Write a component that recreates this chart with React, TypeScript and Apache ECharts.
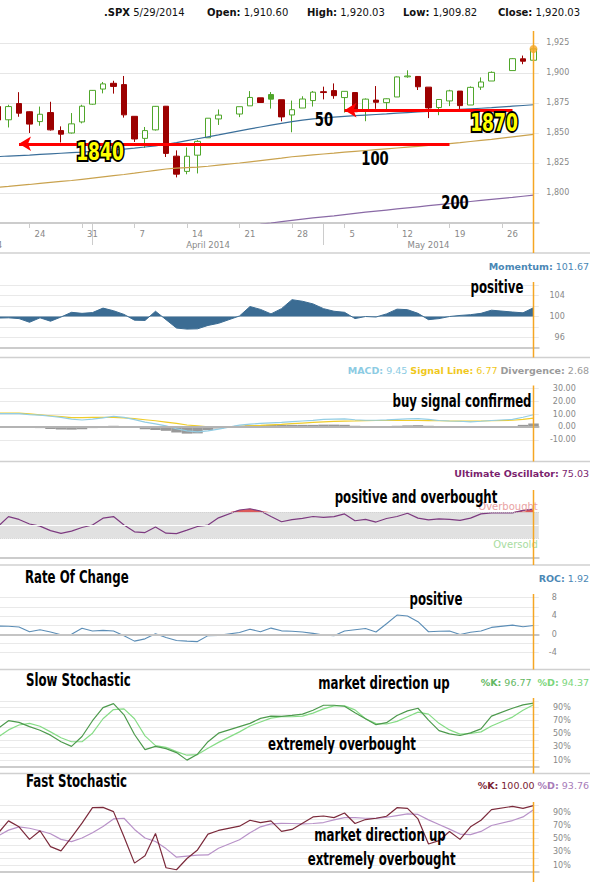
import React, { useEffect, useRef } from "react";
import * as echarts from "echarts";

// ---------- data (weekday categories; holidays have no values) ----------
const dates = [
  "2014-03-17", "2014-03-18", "2014-03-19", "2014-03-20", "2014-03-21",
  "2014-03-24", "2014-03-25", "2014-03-26", "2014-03-27", "2014-03-28",
  "2014-03-31", "2014-04-01", "2014-04-02", "2014-04-03", "2014-04-04",
  "2014-04-07", "2014-04-08", "2014-04-09", "2014-04-10", "2014-04-11",
  "2014-04-14", "2014-04-15", "2014-04-16", "2014-04-17", "2014-04-18",
  "2014-04-21", "2014-04-22", "2014-04-23", "2014-04-24", "2014-04-25",
  "2014-04-28", "2014-04-29", "2014-04-30", "2014-05-01", "2014-05-02",
  "2014-05-05", "2014-05-06", "2014-05-07", "2014-05-08", "2014-05-09",
  "2014-05-12", "2014-05-13", "2014-05-14", "2014-05-15", "2014-05-16",
  "2014-05-19", "2014-05-20", "2014-05-21", "2014-05-22", "2014-05-23",
  "2014-05-26", "2014-05-27", "2014-05-28", "2014-05-29",
];

const opens = [
  null, null, 1872, 1861, 1874.5,
  1867.7, 1859.5, 1867, 1852, 1850,
  1859.2, 1874, 1886.6, 1891.4, 1890.3,
  1863.9, 1845.5, 1852.6, 1872.3, 1830.7,
  1818, 1831.5, 1846, 1861.7, null,
  1865.8, 1872.6, 1879.3, 1882, 1877.7,
  1865, 1870.8, 1877, 1884.4, 1885.3,
  1879.5, 1883.7, 1868.5, 1877.4, 1875.3,
  1880, 1896.8, 1897.1, 1888.2, 1871.2,
  1876.7, 1884.9, 1873.3, 1888.2, 1893.3,
  null, 1902, 1911.8, 1910.6,
];
const highs = [
  null, null, 1874, 1873.5, 1884,
  1868, 1872, 1876, 1855.5, 1866.6,
  1873.5, 1885.8, 1892.5, 1893.5, 1897.5,
  1864, 1855, 1872.5, 1872.5, 1835.5,
  1838, 1844, 1862.3, 1869.6, null,
  1871.9, 1884.9, 1879.3, 1884.1, 1877.7,
  1877, 1880.6, 1885, 1888.6, 1891.3,
  1884.8, 1883.7, 1878.8, 1889.1, 1878.8,
  1897.1, 1902.2, 1897.3, 1888.2, 1878.3,
  1886, 1884.9, 1888.8, 1896.3, 1901.3,
  null, 1912.3, 1914.5, 1920.03,
];
const lows = [
  null, null, 1858, 1854.6, 1863.5,
  1850, 1856, 1852, 1842.1, 1849.5,
  1858, 1873.5, 1883, 1882.8, 1862.8,
  1842.5, 1837.5, 1852, 1830, 1813,
  1815.6, 1816.3, 1846, 1856.7, null,
  1863.2, 1872.6, 1875, 1870.3, 1859.7,
  1850.6, 1870.8, 1872, 1878, 1878.5,
  1867, 1867.7, 1859.8, 1870.1, 1867.9,
  1880, 1896, 1885.8, 1862.4, 1864.8,
  1872.4, 1868.8, 1873.3, 1885.9, 1893.3,
  null, 1902, 1907.3, 1909.82,
];
const closes = [
  null, null, 1860.8, 1872, 1866.5,
  1857.4, 1865.6, 1852.6, 1849, 1857.6,
  1872.3, 1885.5, 1890.9, 1888.8, 1865.1,
  1845, 1852, 1872.2, 1833, 1815.7,
  1830.6, 1843, 1862.3, 1864.9, null,
  1871.9, 1879.6, 1875.4, 1878.2, 1863.4,
  1869.4, 1878.3, 1884, 1883.7, 1881.1,
  1884.7, 1867.7, 1878.2, 1875.6, 1878.5,
  1896.7, 1897.5, 1888.5, 1870.9, 1877.9,
  1885.1, 1872.8, 1888, 1892.5, 1900.5,
  null, 1911.9, 1909.8, 1920.03,
];
const ma50 = [
  null, null, 1830.3, 1830.8, 1831.2,
  1831.6, 1832.1, 1832.6, 1833.1, 1833.6,
  1834.1, 1834.7, 1835.3, 1835.9, 1836.6,
  1837.4, 1838.3, 1839.3, 1840.6, 1842,
  1843.6, 1845.2, 1846.8, 1848.4, null,
  1851.8, 1853.4, 1855, 1856.5, 1858,
  1859.5, 1860.7, 1861.7, 1862.5, 1863.2,
  1863.9, 1864.4, 1864.9, 1865.4, 1865.9,
  1866.5, 1867, 1867.5, 1868, 1868.5,
  1869.1, 1869.6, 1870.1, 1870.6, 1871.1,
  null, 1872.3, 1872.9, 1873.5,
];
const ma100 = [
  null, null, 1804.8, 1805.5, 1806.3,
  1807.1, 1808, 1808.8, 1809.6, 1810.4,
  1811.4, 1812.4, 1813.4, 1814.4, 1815.4,
  1816.5, 1817.7, 1818.9, 1820, 1820.8,
  1821.2, 1821.6, 1822.3, 1823.2, null,
  1825, 1826, 1827, 1828, 1829,
  1830.2, 1831, 1831.8, 1832.5, 1833.2,
  1834, 1834.7, 1835.4, 1836.1, 1836.8,
  1837.5, 1838.2, 1838.9, 1839.6, 1840.3,
  1841.2, 1842, 1842.9, 1843.8, 1844.7,
  null, 1846.8, 1847.8, 1848.8,
];
const ma200 = [
  null, null, null, null, null,
  null, null, null, null, null,
  null, null, null, null, null,
  null, null, null, null, null,
  null, null, null, null, null,
  null, null, 1774, 1775, 1776.2,
  1777.2, 1778.2, 1779.2, 1780.1, 1781,
  1782, 1783, 1784, 1784.9, 1785.8,
  1786.7, 1787.6, 1788.5, 1789.4, 1790.3,
  1791.2, 1792, 1792.9, 1793.8, 1794.7,
  null, 1796.4, 1797.3, 1798.2,
];
const momentum = [
  null, null, 99.7, 99.75, 99.6,
  98.9, 99.75, 99.1, 99.9, 100.8,
  100.6, 100.75, 101.6, 101.1, 100.4,
  99.3, 99.25, 101.0, 99.4, 97.8,
  97.6, 97.65, 98.3, 98.7, null,
  100.1, 101.9, 101.35, 100.5, 101.5,
  103.2, 102.9, 102.4, 101.5, 101.0,
  100.8, 99.6, 100.0, 99.9, 100.5,
  101.4, 101.3, 100.6, 99.4, 99.6,
  100.0, 100.2, 100.35, 100.6, 101.2,
  null, 100.85, 100.7, 101.67,
];
const macd = [
  null, null, 10.3, 10.3, 10.3,
  9.6, 9.1, 8.3, 7.4, 6.0,
  5.4, 6.0, 7.1, 8.3, 7.4,
  5.7, 3.8, 2.4, 0.8, -1.4,
  -3.1, -3.8, -3.0, -1.7, null,
  1.4, 2.2, 2.7, 3.2, 3.6,
  4.1, 4.6, 5.1, 5.8, 6.1,
  6.2, 5.6, 5.2, 5.2, 5.5,
  5.9, 6.2, 6.4, 5.8, 5.0,
  4.6, 4.4, 4.0, 4.4, 5.0,
  null, 5.9, 7.5, 9.45,
];
const signalLine = [
  null, null, 10.8, 10.8, 10.8,
  10.1, 9.4, 8.7, 8.0, 7.3,
  7.2, 7.4, 7.5, 7.5, 7.0,
  6.4, 5.6, 4.8, 3.8, 2.7,
  1.5, 0.8, 0.0, 0.0, null,
  0.5, 0.9, 1.2, 1.6, 2.0,
  2.5, 3.0, 3.5, 4.0, 4.3,
  4.55, 4.7, 4.9, 5.0, 5.0,
  5.0, 5.0, 5.0, 4.9, 4.8,
  4.6, 4.5, 4.5, 4.6, 4.8,
  null, 5.2, 5.9, 6.77,
];
const divergence = [
  null, null, -0.5, -0.5, -0.5,
  -0.6, -0.9, -1.6, -2.0, -2.1,
  -1.8, -0.9, 0.5, 0.9, 0.4,
  -0.7, -1.8, -2.4, -3.0, -4.3,
  -5.2, -5.0, -2.5, -1.2, null,
  0.9, 1.3, 1.5, 1.6, 1.6,
  1.6, 1.6, 1.6, 1.8, 1.8,
  1.65, 0.9, 0.3, 0.2, 0.5,
  0.9, 1.2, 1.4, 0.9, 0.2,
  0.0, -0.1, -0.5, -0.2, 0.2,
  null, 0.7, 1.6, 2.68,
];
const ultimate = [
  null, null, 48, 63.4, 59,
  52, 48.7, 41.8, 37.7, 41.1,
  46.6, 50.4, 61, 63.4, 50.5,
  39.9, 38.8, 47.3, 37.9, 37.2,
  42.5, 48.2, 50.4, 61.5, null,
  73.5, 75.5, 72, 63.5, 55.5,
  58.7, 60.7, 63.5, 62.2, 63.4,
  67.5, 57, 59, 55, 60.5,
  63.5, 68.6, 61, 58.3, 60,
  59, 57.5, 61, 67.5, 69.1,
  null, 69, 73, 75.03,
];
const roc = [
  null, null, 1.8, 1.76, 1.6,
  0.55, 1.0, 0.5, -0.1, 0.0,
  1.3, 0.7, 0.85, 0.7, -0.3,
  -1.5, -1.0, 0.1, -0.7, -1.35,
  -1.5, -1.6, -0.3, -0.25, null,
  0.4, 1.1, 0.55, 1.35, 0.75,
  0.65, 0.5, 0.2, -0.15, -0.3,
  0.7, 1.0, 1.25, 0.5, 2.3,
  4.2, 4.0, 2.75, 0.55, 0.65,
  0.7, -0.05, 0.45, 0.7, 1.5,
  null, 2.0, 1.65, 1.92,
];
const slowK = [
  null, null, 58, 70, 67.5,
  61, 55.5, 48, 38, 31,
  46, 70, 90, 96, 79,
  49, 26, 31, 27.5, 21.5,
  10, 19, 38, 51, null,
  61, 66, 73.5, 77, 76.5,
  78, 80, 86, 93.5, 93.5,
  92, 82, 73, 64, 67,
  78, 85, 89, 71, 55,
  50, 47.5, 51.5, 57.5, 77,
  null, 89, 94, 96.77,
];
const slowD = [
  null, null, 45, 56, 63.5,
  66, 61.5, 53, 44, 38,
  38, 51, 73, 87, 88,
  73, 47, 32, 29.5, 23,
  17.5, 18.5, 28, 37, null,
  53, 62, 68, 74, 76,
  76, 77, 81.5, 88, 92.5,
  92.5, 86.5, 73, 65.5, 65,
  69, 76, 83, 80, 66,
  56, 49.5, 50.5, 53, 62,
  null, 75.5, 86, 94.37,
];
const fastK = [
  null, null, 58, 77, 68,
  49, 62, 38, 31.5, 52,
  73.5, 97, 97.5, 91, 53,
  13, 24, 58, 6, 3,
  20, 33, 57, 62.5, null,
  69, 78, 74.3, 77, 61,
  64, 73.5, 83, 84.4, 82,
  89, 73, 79, 81, 84,
  97, 96, 80, 42, 47,
  61, 49, 68, 78, 94,
  null, 99, 96, 100,
];
const fastD = [
  null, null, 54, 63, 68,
  65.8, 62, 57.5, 49, 45.5,
  51, 59, 68.5, 80, 81,
  64, 51, 45.8, 35, 22,
  23.5, 25, 25.4, 35.5, null,
  48.5, 59, 68, 72.5, 73.2,
  73, 72.5, 73, 74.5, 78.5,
  82, 82, 81, 80.8, 82.5,
  85, 87.5, 86.8, 78.5, 71.5,
  64.5, 57, 56.2, 61, 70,
  null, 77.5, 83, 93.76,
];

// annotation levels drawn as arrows on the price panel
const arrowLevels = [1841, 1869];
const arrowFrom = ["2014-03-21", "2014-05-05"];
const arrowTo = ["2014-05-19", "2014-05-27"];
const monthLabelDates = ["2014-03-17", "2014-04-16", "2014-05-15"];
const monthNames = ["January", "February", "March", "April", "May", "June", "July", "August", "September", "October", "November", "December"];
const uoOverbought = 70;
const uoOversold = 30;

// ---------- styling / layout ----------
const FONT = "'DejaVu Sans', Verdana, sans-serif";
const ANN = "'Liberation Sans Narrow', 'DejaVu Sans Condensed', 'Arial Narrow', sans-serif";
const ANN_SCALE = 0.77;
const GREEN = "#4fa62a";
const RED = "#9c0000";
const ORANGE = "#f5a623";
const OFF = 60; // the chart canvas starts OFF px left of the page edge (first days are cut off)
const GL = -28.25 + OFF;
const GW = 567;
const panels = [
  { top: 33, height: 190 },
  { top: 285, height: 63 },
  { top: 388.3, height: 64.4 },
  { top: 492.8, height: 65 },
  { top: 597.7, height: 64 },
  { top: 701, height: 65.7 },
  { top: 805.7, height: 66 },
];
const separators = [253, 357.5, 461.5, 565, 669.5, 773.5];
const orangeSpans = [[31, 253], [282, 357.5], [385.5, 461.5], [490, 565], [594, 669.5], [698, 773.5], [802, 882]];

const isMonday = (v: string) => new Date(v + "T00:00:00Z").getUTCDay() === 1;
const monthStartIdx = dates.map((d, i) => (i > 0 && d.slice(5, 7) !== dates[i - 1].slice(5, 7) ? i : -1)).filter((i) => i >= 0);
const fmt2 = (n: number) => n.toLocaleString("en-US", { minimumFractionDigits: 2, maximumFractionDigits: 2 });

function candleData() {
  return dates.map((d, i) => {
    const o = opens[i], c = closes[i];
    if (o == null || c == null) return "-";
    let prev: number | null = null;
    for (let j = i - 1; j >= 0; j--) if (closes[j] != null) { prev = closes[j] as number; break; }
    const up = prev == null ? c >= o : c >= prev;
    const col = up ? GREEN : RED;
    const fill = c > o ? "#ffffff" : col;
    return { value: [o, c, lows[i], highs[i]], itemStyle: { color: fill, color0: fill, borderColor: col, borderColor0: col } };
  });
}

function panelX(k: number) {
  return {
    type: "category", gridIndex: k, data: dates,
    axisLine: { lineStyle: { color: "#cccccc", width: 2 } },
    axisTick: { show: false }, axisLabel: { show: false }, splitLine: { show: false },
  };
}

function valueY(k: number, min: number, max: number, interval: number | undefined, fmt: ((v: number) => string) | null, margin: number, extra: any = {}) {
  return {
    type: "value", gridIndex: k, position: "right", min, max, interval,
    axisLine: { show: false }, axisTick: { show: false },
    axisLabel: fmt ? { formatter: fmt, color: "#888", fontSize: 8, fontFamily: FONT, align: "right", margin } : { show: false },
    splitLine: { show: true, showMinLine: false, showMaxLine: true, lineStyle: { color: "#e9e9e9" } },
    ...extra,
  };
}

function lineSeries(x: number, y: number, data: any[], color: string, width = 1.2, extra: any = {}) {
  return { type: "line", xAxisIndex: x, yAxisIndex: y, data, symbol: "none", connectNulls: true, silent: true, lineStyle: { color, width }, itemStyle: { color }, ...extra };
}

function buildOption() {
  const last = dates.length - 1;
  // fill helper for the part of the Ultimate Oscillator above the overbought level
  const started = (i: number) => ultimate.slice(0, i + 1).some((v) => v != null);
  const uoBase = ultimate.map((v, i) => (started(i) ? uoOverbought : null));
  const uoOver = ultimate.map((v, i) => (started(i) ? (v == null ? 0 : Math.max(v - uoOverbought, 0)) : null));
  return {
    animation: false,
    backgroundColor: "#ffffff",
    textStyle: { fontFamily: FONT },
    grid: panels.map((p) => ({ left: GL, width: GW, top: p.top, height: p.height, containLabel: false, outerBoundsMode: "none" })),
    xAxis: [
      {
        type: "category", gridIndex: 0, data: dates,
        axisLine: { lineStyle: { color: "#cccccc", width: 2 } },
        axisTick: { show: true, alignWithLabel: true, interval: (i: number, v: string) => isMonday(v), length: 5, lineStyle: { color: "#cccccc" } },
        axisLabel: { interval: (i: number, v: string) => isMonday(v) && i > 1, formatter: (v: string) => String(parseInt(v.slice(8), 10)), align: "left", padding: [0, 0, 0, 5], margin: 6, color: "#888", fontSize: 8.5, fontFamily: FONT },
        splitLine: { show: false },
      },
      {
        type: "category", gridIndex: 0, data: dates, position: "bottom", offset: 0,
        axisLine: { show: false },
        axisTick: { show: true, alignWithLabel: true, interval: (i: number) => monthStartIdx.includes(i), length: 22, lineStyle: { color: "#cccccc" } },
        axisLabel: { interval: (i: number, v: string) => monthLabelDates.includes(v), formatter: (v: string) => monthNames[parseInt(v.slice(5, 7), 10) - 1] + " " + v.slice(0, 4), margin: 17, color: "#888", fontSize: 8.5, fontFamily: FONT },
        splitLine: { show: false },
      },
      panelX(1), panelX(2), panelX(3), panelX(4), panelX(5), panelX(6),
    ],
    yAxis: [
      valueY(0, 1775, 1933.3, 25, (v: number) => (v % 25 === 0 && v > 1775 ? v.toLocaleString("en-US") : ""), 30.5, { splitLine: { show: true, showMinLine: false, showMaxLine: false, lineStyle: { color: "#e6e6e6" } } }),
      valueY(1, 94, 106, 2, (v: number) => ([96, 100, 104].includes(v) ? String(v) : ""), 26),
      valueY(2, -20, 30, 10, (v: number) => (v > -20 && v <= 30 ? v.toFixed(2) : ""), 37),
      valueY(3, 0, 100, 10, null, 0, { splitLine: { show: false } }),
      valueY(4, -6, 8, 2, (v: number) => (v % 4 === 0 && v > -6 ? String(v) : ""), 18),
      valueY(5, 0, 100, 10, (v: number) => (v % 20 === 10 ? v + "%" : ""), 32),
      valueY(6, 0, 100, 10, (v: number) => (v % 20 === 10 ? v + "%" : ""), 32),
    ],
    series: [
      lineSeries(0, 0, ma200, "#8a6aa6", 1.2),
      lineSeries(0, 0, ma100, "#c9a24e", 1.2),
      lineSeries(0, 0, ma50, "#3b6f9a", 1.2),
      {
        type: "candlestick", xAxisIndex: 0, yAxisIndex: 0, data: candleData(), barWidth: 6, silent: true,
        itemStyle: { borderWidth: 1 },
        markLine: {
          silent: true, symbol: ["arrow", "none"], symbolSize: [11, 12],
          label: { show: false },
          lineStyle: { color: "#ff0000", width: 3, type: "solid" },
          data: arrowLevels.map((lv, k) => [
            { coord: [arrowFrom[k], lv] },
            { coord: [arrowTo[k], lv] },
          ]),
        },
      },
      { type: "scatter", xAxisIndex: 0, yAxisIndex: 0, data: [[dates[last], closes[last]]], symbolSize: 8, itemStyle: { color: ORANGE }, silent: true, z: 5 },
      // momentum
      lineSeries(2, 1, momentum, "#3b6c93", 1, { areaStyle: { origin: 100, color: "#3b6c93", opacity: 1 } }),
      // MACD
      {
        type: "bar", xAxisIndex: 3, yAxisIndex: 2, data: divergence, barWidth: 10.5, itemStyle: { color: "#999999" }, silent: true,
        markLine: { silent: true, symbol: ["none", "none"], label: { show: false }, lineStyle: { color: "#b4b4b4", width: 2, type: "solid" }, data: [{ yAxis: 0 }] },
      },
      lineSeries(3, 2, signalLine, "#f0cd2a", 1.2),
      lineSeries(3, 2, macd, "#93cde4", 1.2),
      // Ultimate oscillator: band + red fill above overbought
      lineSeries(4, 3, uoBase, "#000", 0, {
        stack: "uo", connectNulls: false, lineStyle: { opacity: 0, width: 0 },
        markArea: { silent: true, itemStyle: { color: "#e1e1e1" }, data: [[{ yAxis: uoOversold }, { yAxis: uoOverbought }]] },
        markLine: {
          silent: true, symbol: ["none", "none"],
          data: [
            { yAxis: uoOverbought, lineStyle: { color: "#cdcdcd", type: "dotted", width: 1 }, label: { show: true, formatter: "Overbought", position: "insideEndTop", color: "#e9a2a2", fontSize: 10, fontFamily: FONT, distance: 1 } },
            { yAxis: uoOversold, lineStyle: { color: "#cdcdcd", type: "dotted", width: 1 }, label: { show: true, formatter: "Oversold", position: "insideEndBottom", color: "#a8dc9f", fontSize: 10, fontFamily: FONT, distance: 1 } },
            { yAxis: 50, lineStyle: { color: "#ffffff", type: "solid", width: 1 }, label: { show: false } },
          ],
        },
      }),
      lineSeries(4, 3, uoOver, "#d84040", 0, {
        stack: "uo", connectNulls: false, lineStyle: { opacity: 0, width: 0 }, areaStyle: { color: "#d94848", opacity: 0.9 },
      }),
      lineSeries(4, 3, ultimate, "#7d3a80", 1.2),
      // ROC
      lineSeries(5, 4, roc, "#5b8db6", 1.1, {
        markLine: { silent: true, symbol: ["none", "none"], label: { show: false }, lineStyle: { color: "#c4c4c4", width: 2, type: "solid" }, data: [{ yAxis: 0 }] },
      }),
      // Slow stochastic
      lineSeries(6, 5, slowD, "#86dc86", 1.2),
      lineSeries(6, 5, slowK, "#4d9a4d", 1.2),
      // Fast stochastic
      lineSeries(7, 6, fastD, "#b892c8", 1.2),
      lineSeries(7, 6, fastK, "#7b2a3b", 1.2),
    ],
  };
}

function tx(x: number, y: number, text: string, style: any, extra: any = {}) {
  return { type: "text", x: x + OFF, y, silent: true, z: 100, style: { text, verticalAlign: "middle", ...style }, ...extra };
}

function rs(color: string, bold: boolean, size = 9.5) {
  return { fontSize: size, fontFamily: FONT, fontWeight: bold ? "bold" : "normal", fill: color };
}

function buildGraphics(xLast: number) {
  const last = dates.length - 1;
  const [yy, mm, dd] = dates[last].split("-");
  const dateLabel = `${parseInt(mm, 10)}/${parseInt(dd, 10)}/${yy}`;
  const hdr = (x: number, label: string, value: string) =>
    tx(x, 12, `{b|${label}} {n|${value}}`, { fontSize: 10, fontFamily: FONT, fill: "#111", rich: { b: rs("#111", true, 10), n: rs("#111", false, 10) } });
  const ann = (x: number, y: number, text: string, size = 17, align = "center") =>
    tx(x, y, text, { fontSize: size, fontFamily: ANN, fontWeight: "bold", fill: "#000", align }, { scaleX: ANN_SCALE });
  const big = (x: number, y: number, text: string) => [
    tx(x, y, text, { fontSize: 25, fontFamily: ANN, fontWeight: "bold", fill: "#000", stroke: "#000", lineWidth: 4, align: "center" }, { scaleX: 0.76 }),
    tx(x, y, text, { fontSize: 25, fontFamily: ANN, fontWeight: "bold", fill: "#ffff00", align: "center" }, { scaleX: 0.76, z: 101 }),
  ];
  const right = (y: number, text: string, rich: any) => tx(589, y, text, { fontSize: 9.5, fontFamily: FONT, fill: "#888", align: "right", rich });

  const els: any[] = [
    hdr(104, ".SPX", dateLabel),
    hdr(207, "Open:", fmt2(opens[last] as number)),
    hdr(307, "High:", fmt2(highs[last] as number)),
    hdr(403, "Low:", fmt2(lows[last] as number)),
    hdr(498, "Close:", fmt2(closes[last] as number)),

    right(266, `{a|Momentum:} {b|${(momentum[last] as number).toFixed(2)}}`, { a: rs("#4a87b5", true), b: rs("#4a87b5", false) }),
    right(370, `{a|MACD:} {b|${(macd[last] as number).toFixed(2)}} {c|Signal Line:} {d|${(signalLine[last] as number).toFixed(2)}} {e|Divergence:} {f|${(divergence[last] as number).toFixed(2)}}`,
      { a: rs("#8ccbe3", true), b: rs("#8ccbe3", false), c: rs("#f0c81c", true), d: rs("#f0c81c", false), e: rs("#9a9a9a", true), f: rs("#9a9a9a", false) }),
    right(473.5, `{a|Ultimate Oscillator:} {b|${(ultimate[last] as number).toFixed(2)}}`, { a: rs("#7b1f6e", true), b: rs("#7b1f6e", false) }),
    right(578, `{a|ROC:} {b|${(roc[last] as number).toFixed(2)}}`, { a: rs("#4a87b5", true), b: rs("#4a87b5", false) }),
    right(682, `{a|%K:} {b|${(slowK[last] as number).toFixed(2)}}  {c|%D:} {d|${(slowD[last] as number).toFixed(2)}}`, { a: rs("#62b862", true), b: rs("#62b862", false), c: rs("#7bd67b", true), d: rs("#7bd67b", false) }),
    right(785.5, `{a|%K:} {b|${(fastK[last] as number).toFixed(2)}} {c|%D:} {d|${(fastD[last] as number).toFixed(2)}}`, { a: rs("#7a2233", true), b: rs("#7a2233", false), c: rs("#a77bb8", true), d: rs("#a77bb8", false) }),

    ann(497, 287, "positive"),
    ann(462, 401.7, "buy signal confirmed"),
    ann(416, 497.3, "positive and overbought"),
    ann(436, 599.3, "positive"),
    ann(25, 577.3, "Rate Of Change", 17, "left"),
    ann(26, 680, "Slow Stochastic", 17, "left"),
    ann(384, 683.3, "market direction up"),
    ann(342, 744.3, "extremely overbought"),
    ann(26, 781.7, "Fast Stochastic", 17, "left"),
    ann(380, 835, "market direction up"),
    ann(381.6, 859.3, "extremely overbought"),
    ann(324, 119, "50", 19),
    ann(375, 158, "100", 19),
    ann(455, 202, "200", 19),
    ...big(100, 151, "1840"),
    ...big(494, 122, "1870"),
  ];
  separators.forEach((y) => els.push({ type: "line", silent: true, z: 90, shape: { x1: OFF, y1: y, x2: OFF + 590, y2: y }, style: { stroke: "#d0d0d0", lineWidth: 1.5 } }));
  orangeSpans.forEach(([a, b]) => els.push({ type: "line", silent: true, z: 95, shape: { x1: xLast, y1: a, x2: xLast, y2: b }, style: { stroke: ORANGE, lineWidth: 1.5 } }));
  return els;
}

export default function App() {
  const ref = useRef<HTMLDivElement>(null);
  useEffect(() => {
    const el = ref.current;
    if (!el) return;
    const chart = echarts.init(el, undefined, { renderer: "svg" });
    chart.setOption(buildOption() as any);
    const xLast = chart.convertToPixel({ xAxisIndex: 0 }, dates[dates.length - 1]) as number;
    chart.setOption({ graphic: buildGraphics(xLast) } as any);
    return () => chart.dispose();
  }, []);
  return (
    <div style={{ position: "absolute", left: 0, top: 0, width: 590, height: 882, overflow: "hidden", background: "#ffffff" }}>
      <div ref={ref} style={{ position: "absolute", left: -OFF, top: 0, width: 590 + OFF, height: 882 }} />
    </div>
  );
}
